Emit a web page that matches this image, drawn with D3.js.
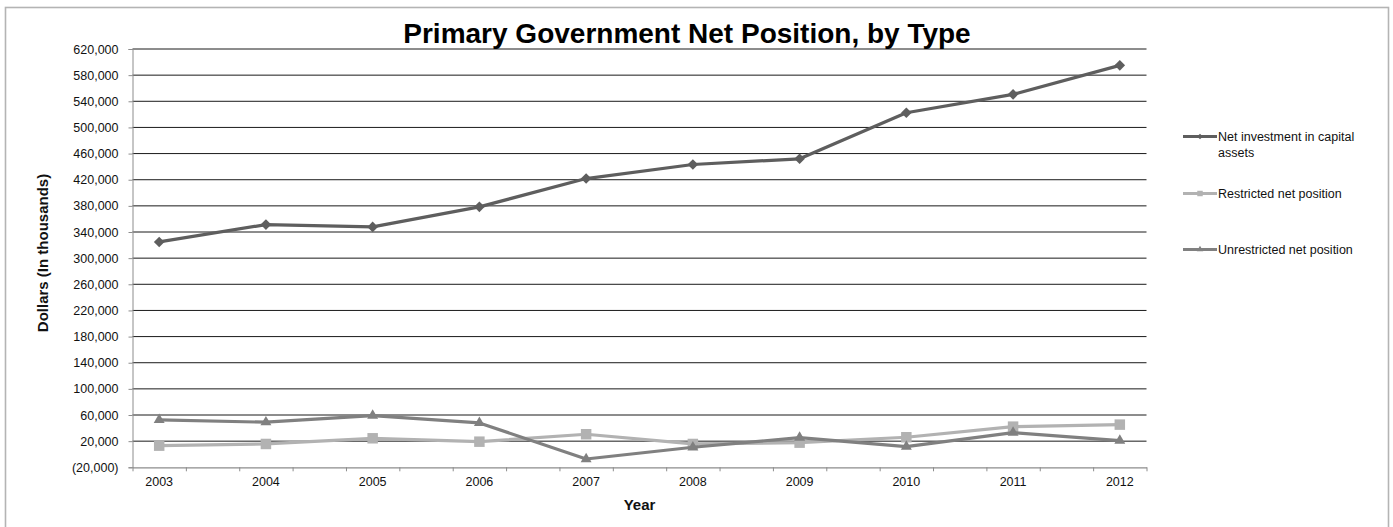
<!DOCTYPE html>
<html>
<head>
<meta charset="utf-8">
<script src="https://cdn.jsdelivr.net/npm/d3@7/dist/d3.min.js"></script>
<style>
  html, body { margin: 0; padding: 0; background: #fff; }
  svg { display: block; font-family: "Liberation Sans", Arial, sans-serif; }
</style>
</head>
<body>
<svg id="chart" width="1393" height="527"></svg>
<script>
// Fiscal years shown on the category axis
const years = ["2003", "2004", "2005", "2006", "2007", "2008", "2009", "2010", "2011", "2012"];

// Net position components, dollars in thousands
const netInvestment = [324800, 351300, 347800, 378500, 421800, 443300, 452000, 522500, 550600, 595000];
const restricted    = [13100, 15700, 24400, 19200, 30600, 15700, 17700, 26000, 42200, 45300];
const unrestricted  = [52500, 49000, 59100, 47900, -7300, 10700, 25400, 11600, 33000, 20800];

// Value axis labels
const yTicks = [-20000, 20000, 60000, 100000, 140000, 180000, 220000, 260000, 300000,
                340000, 380000, 420000, 460000, 500000, 540000, 580000, 620000];

const seriesNames = ["Net investment in capital assets", "Restricted net position", "Unrestricted net position"];

const svg = d3.select("#chart");

const plot = { left: 132.5, right: 1146.5, top: 49, bottom: 467.3 };

const x = d3.scaleLinear().domain([-0.25, years.length - 0.75]).range([plot.left, plot.right]);
const y = d3.scaleLinear().domain([yTicks[0], yTicks[yTicks.length - 1]]).range([plot.bottom, plot.top]);

const fmt = v => v < 0 ? "(" + d3.format(",")(-v) + ")" : d3.format(",")(v);

// Diamond marker: a square turned 45 degrees
const diamond = {
  draw(context, size) {
    const r = Math.sqrt(size / 2);
    context.moveTo(0, -r);
    context.lineTo(r, 0);
    context.lineTo(0, r);
    context.lineTo(-r, 0);
    context.closePath();
  }
};

// Outer chart frame
svg.append("rect")
  .attr("x", 5.5).attr("y", 7.5).attr("width", 1383).attr("height", 530)
  .attr("fill", "none").attr("stroke", "#b4b4b4").attr("stroke-width", 1.6);

// Horizontal gridlines
svg.append("g")
  .selectAll("line")
  .data(yTicks.slice(1))
  .join("line")
  .attr("x1", plot.left).attr("x2", plot.right)
  .attr("y1", d => y(d)).attr("y2", d => y(d))
  .attr("stroke", "#1a1a1a").attr("stroke-width", 1);

// Value axis
const yAxis = d3.axisLeft(y).tickValues(yTicks).tickFormat(fmt).tickSize(4).tickPadding(10);
const gy = svg.append("g").attr("transform", `translate(${plot.left},0)`).call(yAxis);
gy.select(".domain").attr("stroke", "#8c8c8c").attr("stroke-width", 1);
gy.selectAll(".tick line").attr("stroke", "#8c8c8c");
gy.selectAll(".tick text")
  .attr("font-family", "Liberation Sans, Arial, sans-serif")
  .attr("font-size", 12.5).attr("fill", "#111");

// Category axis: tick marks split each category interval in half
const xTickVals = d3.range(2 * years.length).map(k => -0.25 + k * 0.5);
const xAxis = d3.axisBottom(x).tickValues(xTickVals).tickSize(4).tickFormat("").tickSizeOuter(0);
const gx = svg.append("g").attr("transform", `translate(0,${plot.bottom})`).call(xAxis);
gx.select(".domain").attr("stroke", "#8c8c8c").attr("stroke-width", 1.2);
gx.selectAll(".tick line").attr("stroke", "#8c8c8c");

svg.append("g")
  .selectAll("text")
  .data(years)
  .join("text")
  .attr("x", (d, i) => x(i))
  .attr("y", 486)
  .attr("text-anchor", "middle")
  .attr("font-size", 12.5).attr("fill", "#111")
  .text(d => d);

// Axis titles
svg.append("text")
  .attr("x", (plot.left + plot.right) / 2).attr("y", 509.5)
  .attr("text-anchor", "middle")
  .attr("font-size", 15).attr("font-weight", "bold").attr("fill", "#111")
  .text("Year");

svg.append("text")
  .attr("transform", `translate(47.5,253) rotate(-90)`)
  .attr("text-anchor", "middle")
  .attr("font-size", 15).attr("font-weight", "bold").attr("fill", "#111")
  .text("Dollars (In thousands)");

// Chart title
svg.append("text")
  .attr("x", 687).attr("y", 43)
  .attr("text-anchor", "middle")
  .attr("font-size", 28).attr("font-weight", "bold").attr("fill", "#000")
  .text("Primary Government Net Position, by Type");

// Series definitions
const series = [
  { name: seriesNames[0], values: netInvestment, color: "#5e5e5e", width: 3.2, symbol: diamond,          size: 56,  legendSize: 16 },
  { name: seriesNames[1], values: restricted,    color: "#b2b2b2", width: 3.2, symbol: d3.symbolSquare,   size: 110, legendSize: 30 },
  { name: seriesNames[2], values: unrestricted,  color: "#808080", width: 3.2, symbol: d3.symbolTriangle, size: 52,  legendSize: 18 }
];

const line = d3.line().x((d, i) => x(i)).y(d => y(d));

// Restricted first, then unrestricted, then net investment on top
const drawOrder = [1, 2, 0];
drawOrder.forEach(si => {
  const s = series[si];
  const g = svg.append("g");
  g.append("path")
    .datum(s.values)
    .attr("d", line)
    .attr("fill", "none")
    .attr("stroke", s.color)
    .attr("stroke-width", s.width)
    .attr("stroke-linejoin", "round");
  g.selectAll("path.mark")
    .data(s.values)
    .join("path")
    .attr("class", "mark")
    .attr("transform", (d, i) => `translate(${x(i)},${y(d)})`)
    .attr("d", d3.symbol().type(s.symbol).size(s.size))
    .attr("fill", s.color);
});

// Legend
const legendRows = [136.5, 193.5, 249.5];
const lg = svg.append("g");
series.forEach((s, i) => {
  const row = lg.append("g").attr("transform", `translate(1183,${legendRows[i]})`);
  row.append("line")
    .attr("x1", 0).attr("x2", 34).attr("y1", 0).attr("y2", 0)
    .attr("stroke", s.color).attr("stroke-width", 3);
  row.append("path")
    .attr("transform", "translate(17,0)")
    .attr("d", d3.symbol().type(s.symbol).size(s.legendSize))
    .attr("fill", s.color);
  const t = row.append("text")
    .attr("x", 35).attr("y", 4.5)
    .attr("font-size", 12.5).attr("fill", "#111");
  if (i === 0) {
    t.append("tspan").attr("x", 35).text("Net investment in capital");
    t.append("tspan").attr("x", 35).attr("dy", 15.5).text("assets");
  } else {
    t.text(s.name);
  }
});
</script>
</body>
</html>
